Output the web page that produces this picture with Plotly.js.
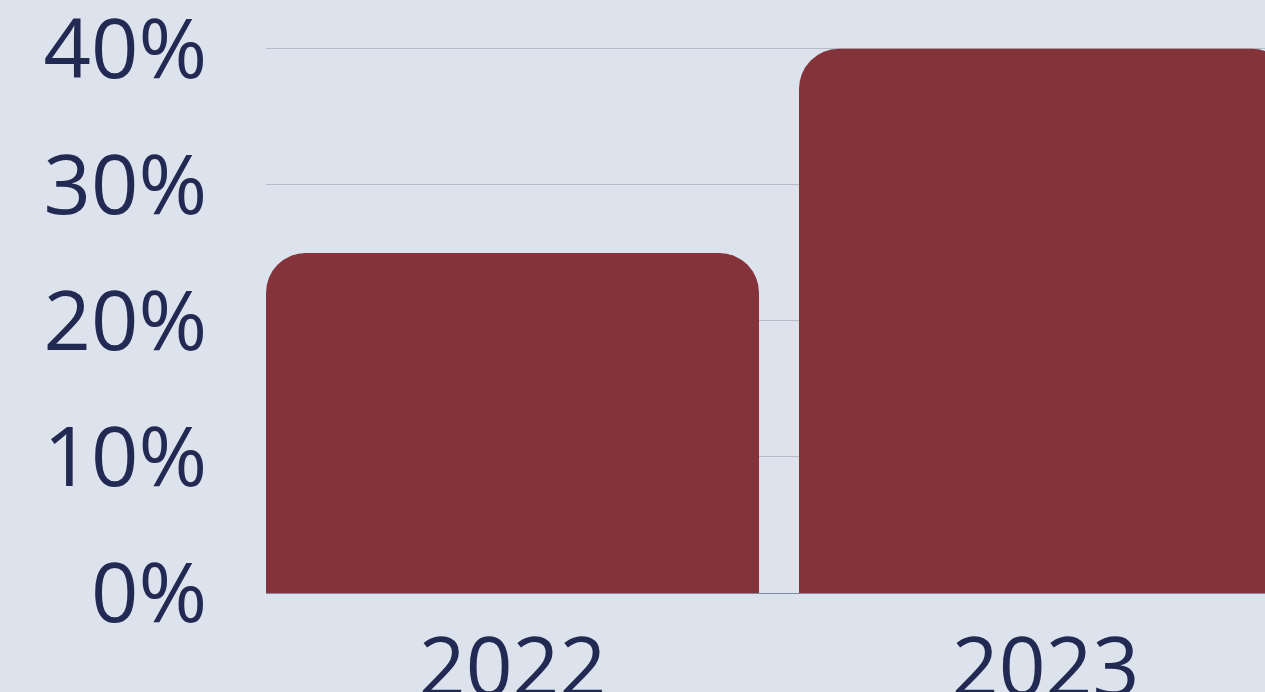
<!DOCTYPE html>
<html>
<head>
<meta charset="utf-8">
<script src="https://cdn.plot.ly/plotly-3.0.1.min.js"></script>
<style>
  html, body { margin: 0; padding: 0; background: #dce3ec; overflow: hidden; }
  #chart { width: 1265px; height: 692px; }
</style>
</head>
<body>
<div id="chart"></div>
<script>
const years = ["2022", "2023"];
const shares = [25, 40];
const yTicks = [0, 10, 20, 30, 40];
const yTickLabels = ["0%", "10%", "20%", "30%", "40%"];

const trace = {
  type: "bar",
  x: years,
  y: shares,
  marker: { color: "#84333a", cornerradius: 40 },
  hoverinfo: "skip"
};

const layout = {
  width: 1265,
  height: 692,
  paper_bgcolor: "#dce3ec",
  plot_bgcolor: "#dce3ec",
  margin: { l: 266, r: 0, t: 42, b: 99 },
  bargap: 0.075,
  showlegend: false,
  font: { family: "Open Sans, sans-serif", size: 82, color: "#222a54" },
  xaxis: {
    type: "category",
    range: [-0.4625, 1.4118],
    showgrid: false,
    showline: false,
    ticks: "",
    ticklabelstandoff: 20,
    tickfont: { family: "Open Sans, sans-serif", size: 82, color: "#222a54" }
  },
  yaxis: {
    range: [0, 40.5],
    tickmode: "array",
    tickvals: yTicks,
    ticktext: yTickLabels,
    ticklabeloverflow: "allow",
    showgrid: true,
    gridcolor: "#b3bccb",
    gridwidth: 1,
    zeroline: true,
    zerolinecolor: "#8089a2",
    zerolinewidth: 1,
    showline: false,
    ticks: "",
    ticklabelstandoff: 58,
    tickfont: { family: "Open Sans, sans-serif", size: 83, color: "#222a54" }
  }
};

Plotly.newPlot("chart", [trace], layout, { staticPlot: true, displayModeBar: false });
</script>
</body>
</html>
